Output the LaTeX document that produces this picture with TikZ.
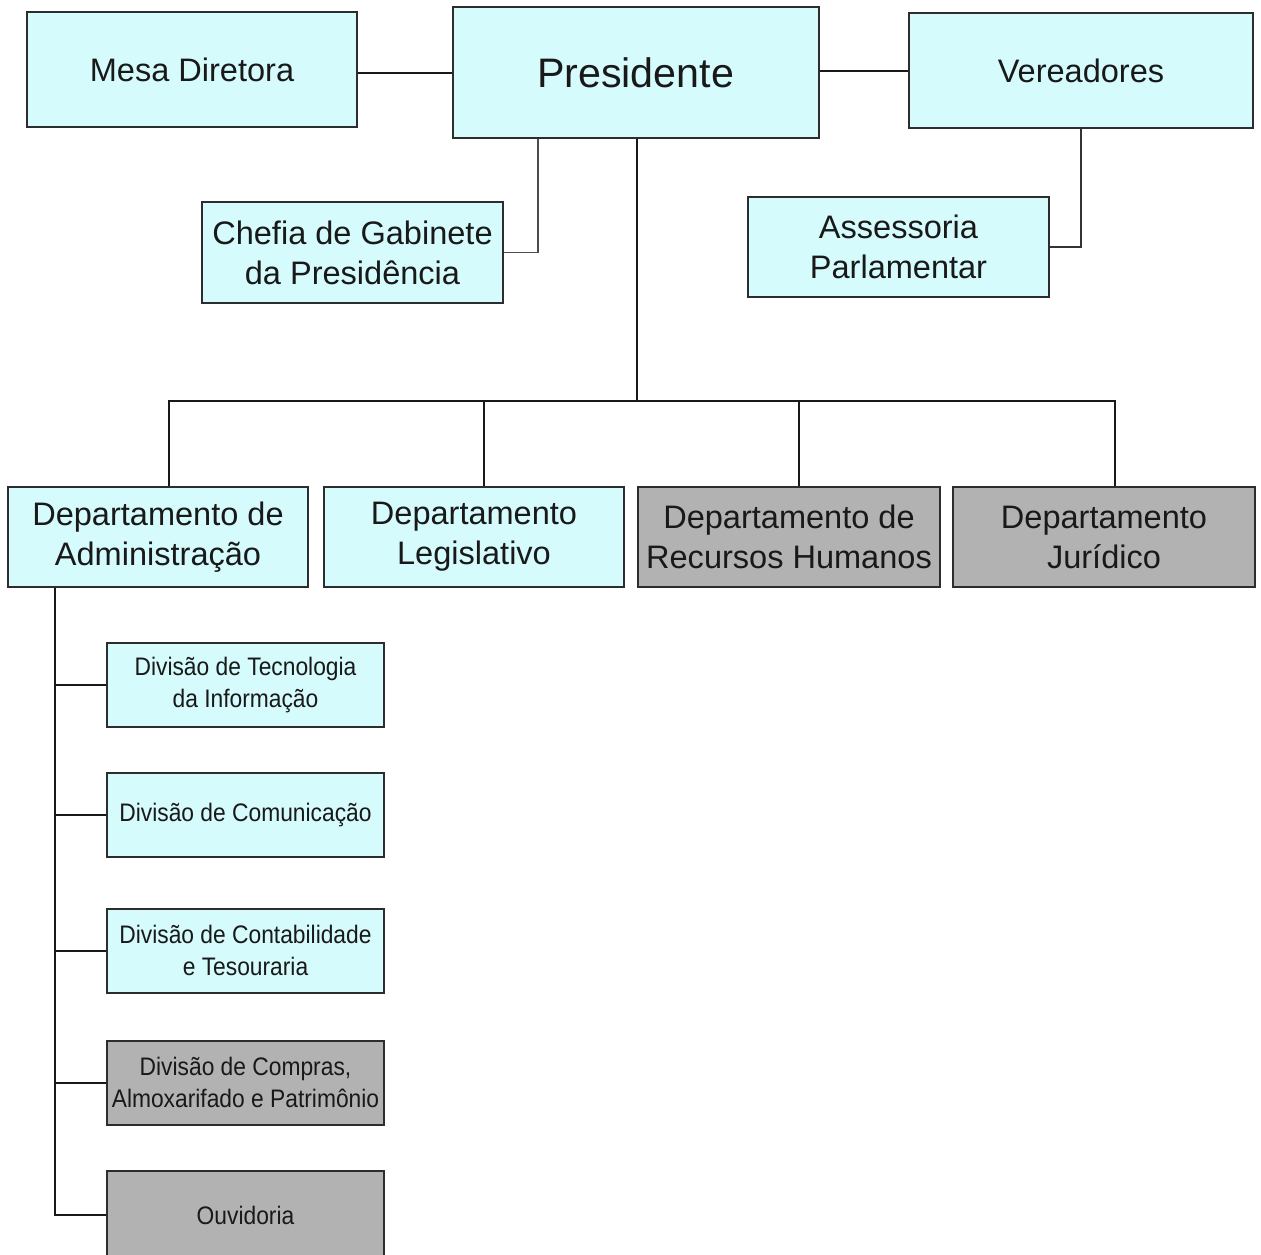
\documentclass[tikz,border=0pt]{standalone}
\usepackage{fontspec}
\setmainfont{Liberation Sans}
\newfontfamily\condfont[FakeStretch=0.9]{Liberation Sans}
\definecolor{boxcyan}{RGB}{213,251,252}
\definecolor{boxgray}{RGB}{178,178,178}
\definecolor{edgecol}{RGB}{45,45,45}
\definecolor{txtcol}{RGB}{25,25,25}
\begin{document}
\begin{tikzpicture}[x=0.75pt,y=-0.75pt,
  base/.style={draw=edgecol,line width=1.5pt,inner sep=0pt,align=center,text=txtcol},
  bigbox/.style={base,font=\fontsize{24.4}{30}\selectfont},
  divbox/.style={base,font=\condfont\fontsize{19}{24}\selectfont,minimum width=277*0.75pt,minimum height=84*0.75pt},
  cyanfill/.style={fill=boxcyan},
  grayfill/.style={fill=boxgray},
  conn/.style={line width=1.5pt,draw=black!90}
]
\useasboundingbox (0,0) rectangle (1261,1254);
\fill[white] (0,0) rectangle (1261,1254);

% top row
\node[bigbox,cyanfill,minimum width=330*0.75pt,minimum height=115*0.75pt] (mesa) at (192,69.5) {Mesa Diretora};
\node[base,cyanfill,font=\fontsize{30.9}{36}\selectfont,minimum width=366*0.75pt,minimum height=131*0.75pt] (pres) at (635.5,72.5) {Presidente};
\node[bigbox,cyanfill,minimum width=344*0.75pt,minimum height=115*0.75pt] (ver) at (1081,70.5) {Vereadores};

% second row
\node[bigbox,cyanfill,minimum width=301*0.75pt,minimum height=101*0.75pt] (chefia) at (352.5,252.5) {Chefia de Gabinete\\da Presidência};
\node[bigbox,cyanfill,minimum width=301*0.75pt,minimum height=100*0.75pt] (ass) at (898.5,247) {Assessoria\\Parlamentar};

% departments
\node[bigbox,cyanfill,minimum width=300*0.75pt,minimum height=100*0.75pt] (adm) at (158,537) {Departamento de\\Administração};
\node[bigbox,cyanfill,minimum width=300*0.75pt,minimum height=100*0.75pt] (leg) at (474,537) {Departamento\\Legislativo};
\node[bigbox,grayfill,minimum width=302*0.75pt,minimum height=100*0.75pt] (rh) at (789,537) {Departamento de\\Recursos Humanos};
\node[bigbox,grayfill,minimum width=302*0.75pt,minimum height=100*0.75pt] (jur) at (1104,537) {Departamento\\Jurídico};

% divisions
\node[divbox,cyanfill] (ti) at (245.5,685) {Divisão de Tecnologia\\da Informação};
\node[divbox,cyanfill] (com) at (245.5,815) {Divisão de Comunicação};
\node[divbox,cyanfill] (cont) at (245.5,950.5) {Divisão de Contabilidade\\e Tesouraria};
\node[divbox,grayfill] (comp) at (245.5,1082.5) {Divisão de Compras,\\Almoxarifado e Patrimônio};
\node[divbox,grayfill,minimum height=88*0.75pt] (ouv) at (245.5,1215) {Ouvidoria};

% coordinates
\coordinate (bus) at (637,401);
\coordinate (atrunk) at (55,587);

% connectors top
\draw[conn] (pres.west) -- (pres.west -| mesa.east);
\draw[conn] (pres.east |- ver.west) -- (ver.west);
\draw[line width=1.2pt,draw=black!70] ([xshift=-73pt]pres.south) |- (chefia.east);
\draw[line width=1.2pt,draw=black!80] (ver.south) |- (ass.east);

% trunk and bus
\draw[conn] (pres.south -| bus) -- (bus);
\draw[conn] ([xshift=8.25pt]adm.north) |- (bus) -| ([xshift=8.25pt]jur.north);
\draw[conn] ([xshift=7.5pt]leg.north) -- ([xshift=7.5pt]leg.north |- bus);
\draw[conn] ([xshift=7.5pt]rh.north) -- ([xshift=7.5pt]rh.north |- bus);

% administration trunk
\draw[conn] (adm.south -| atrunk) |- (ouv.west);
\draw[conn] (ti.west -| atrunk) -- (ti.west);
\draw[conn] (com.west -| atrunk) -- (com.west);
\draw[conn] (cont.west -| atrunk) -- (cont.west);
\draw[conn] (comp.west -| atrunk) -- (comp.west);
\end{tikzpicture}
\end{document}
